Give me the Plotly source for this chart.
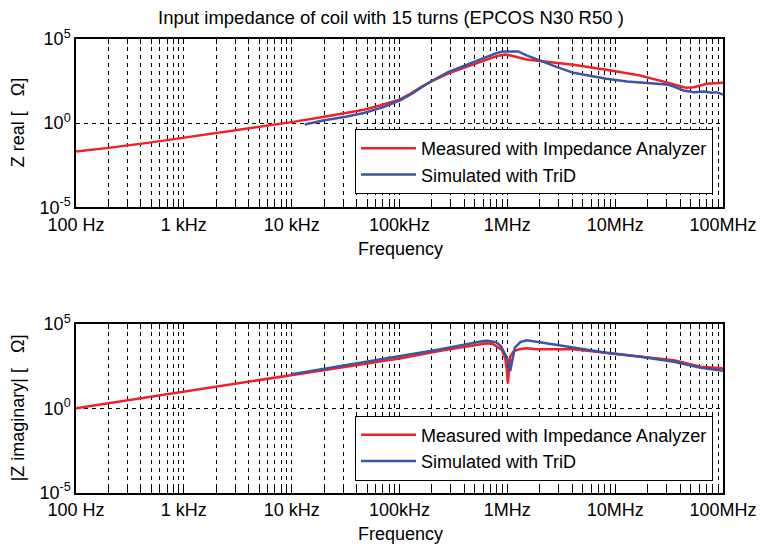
import plotly.graph_objects as go

# ---------------- data ----------------
# Top panel: real part of Z
freq_re_meas = [100, 200, 500, 1e3, 2e3, 4e3, 7.8e3, 1e4, 1.95e4, 4.68e4, 6.6e4, 1e5, 1.26e5,
                1.58e5, 2e5, 2.82e5, 4e5, 5.6e5, 7.9e5, 9.5e5, 1e6, 1.51e6, 2e6, 4.1e6, 8.3e6,
                1.7e7, 3.2e7, 4.5e7, 5.4e7, 7.1e7, 1e8]
z_re_meas = [0.021, 0.034, 0.072, 0.135, 0.25, 0.47, 0.91, 1.15, 2.3, 6.2, 11.2, 25, 56,
             141, 316, 890, 2000, 4200, 9500, 12000, 11700, 6000, 5000, 2950, 1480,
             680, 240, 126, 138, 220, 250]

freq_re_sim = [1.32e4, 1.58e4, 1.95e4, 3.16e4, 4.68e4, 7.1e4, 1e5, 1.26e5, 1.58e5, 2e5, 2.82e5,
               4e5, 5.6e5, 7.9e5, 9.1e5, 1.26e6, 1.51e6, 2e6, 2.9e6, 4.1e6, 5.9e6, 8.3e6,
               1.29e7, 1.95e7, 3.0e7, 3.5e7, 4.3e7, 5.4e7, 6.6e7, 7.9e7, 8.7e7, 1e8]
z_re_sim = [0.83, 1.12, 1.45, 2.4, 4.0, 8.9, 22, 50, 132, 330, 1070,
            2500, 5900, 14500, 18200, 18200, 10700, 5250, 2140, 980, 620, 440,
            300, 250, 200, 150, 87, 69, 76, 65, 69, 49]

# Bottom panel: |imaginary part of Z|
freq_im_meas = [100, 1e3, 1e4, 1e5, 2.4e5, 5.6e5, 6.5e5, 7.4e5, 8.9e5, 9.55e5, 9.89e5, 1.012e6,
                1.033e6, 1.062e6, 1.15e6, 1.32e6, 1.51e6, 1.86e6, 4.1e6, 8.3e6, 1.7e7, 3.5e7,
                6.2e7, 1e8]
z_im_meas = [1.0, 9.5, 90, 910, 2570, 6300, 7100, 6300, 2900, 910, 186, 30,
             295, 1150, 2500, 3300, 3630, 3160, 3160, 2000, 1260, 720,
             295, 235]

freq_im_sim = [1e4, 1e5, 2.4e5, 6.0e5, 6.5e5, 7.9e5, 8.7e5, 9.2e5, 1.0e6, 1.062e6, 1.11e6,
               1.175e6, 1.32e6, 1.51e6, 2.0e6, 4.1e6, 8.3e6, 1.7e7, 3.5e7, 6.2e7, 1e8]
z_im_sim = [107, 1260, 3160, 9800, 10000, 8300, 5000, 2500, 890, 160, 800,
            4000, 8500, 10700, 8300, 4200, 2000, 1150, 575, 257, 170]

decade_freqs = [1e2, 1e3, 1e4, 1e5, 1e6, 1e7, 1e8]
decade_labels = ["100 Hz", "1 kHz", "10 kHz", "100kHz", "1MHz", "10MHz", "100MHz"]
y_tick_vals = [1e-5, 1, 1e5]
y_tick_labels = ["10<sup>-5</sup>", "10<sup>0</sup>", "10<sup>5</sup>"]

series_names = ["Measured with Impedance Analyzer", "Simulated with TriD"]

# ---------------- styling ----------------
RED = "#ee2229"
BLUE = "#3b55a6"
FONT = "Liberation Sans, Arial, sans-serif"
FS = 18

grid_vals, grid_text = [], []
for i, d in enumerate(decade_freqs[:-1]):
    for m in range(1, 10):
        grid_vals.append(d * m)
        grid_text.append(decade_labels[i] if m == 1 else "")
grid_vals.append(decade_freqs[-1])
grid_text.append(decade_labels[-1])

W, H = 762, 545
ML, MR, MT, MB = 76, 39, 39, 52
PW, PH = W - ML - MR, H - MT - MB


def py(pix_y):
    return (H - pix_y - MB) / PH


def px(pix_x):
    return (pix_x - ML) / PW


xstyle = dict(type="log", range=[2, 8], tickmode="array", tickvals=grid_vals, ticktext=grid_text,
              showgrid=True, gridcolor="black", griddash="4px,4px", gridwidth=1,
              ticks="inside", ticklen=5, tickcolor="black", tickwidth=1,
              showline=True, linecolor="black", linewidth=1.5, mirror="ticks",
              tickfont=dict(size=FS, color="black", family=FONT), zeroline=False,
              ticklabelstandoff=0, automargin=False)
ystyle = dict(type="log", range=[-5, 5], tickmode="array", tickvals=y_tick_vals,
              ticktext=y_tick_labels, showgrid=True, gridcolor="black", griddash="4px,4px",
              gridwidth=1, ticks="", showline=True, linecolor="black", linewidth=1.5,
              mirror=True, tickfont=dict(size=FS, color="black", family=FONT), zeroline=False,
              automargin=False)

top_dom = [py(207.3), py(39)]
bot_dom = [py(492.7), py(324)]

fig = go.Figure()
fig.add_trace(go.Scatter(x=freq_re_meas, y=z_re_meas, mode="lines", name=series_names[0],
                         line=dict(color=RED, width=2.5), xaxis="x", yaxis="y", legend="legend"))
fig.add_trace(go.Scatter(x=freq_re_sim, y=z_re_sim, mode="lines", name=series_names[1],
                         line=dict(color=BLUE, width=2.5), xaxis="x", yaxis="y", legend="legend"))
fig.add_trace(go.Scatter(x=freq_im_meas, y=z_im_meas, mode="lines", name=series_names[0],
                         line=dict(color=RED, width=2.5), xaxis="x2", yaxis="y2", legend="legend2"))
fig.add_trace(go.Scatter(x=freq_im_sim, y=z_im_sim, mode="lines", name=series_names[1],
                         line=dict(color=BLUE, width=2.5), xaxis="x2", yaxis="y2", legend="legend2"))

legend_common = dict(xanchor="left", yanchor="middle", bordercolor="black", borderwidth=1,
                     bgcolor="white", font=dict(size=FS, color="black", family=FONT),
                     tracegroupgap=0, itemwidth=55)

ann_common = dict(xref="paper", yref="paper", showarrow=False, xanchor="center",
                  yanchor="middle", font=dict(size=FS, color="black", family=FONT))

fig.update_layout(
    width=W, height=H, margin=dict(l=ML, r=MR, t=MT, b=MB, autoexpand=False),
    paper_bgcolor="white", plot_bgcolor="white",
    font=dict(family=FONT, color="black", size=FS),
    xaxis=dict(**xstyle, anchor="y"),
    yaxis=dict(**ystyle, domain=top_dom, anchor="x"),
    xaxis2=dict(**xstyle, anchor="y2"),
    yaxis2=dict(**ystyle, domain=bot_dom, anchor="x2"),
    legend=dict(x=px(355), y=py(161.5), **legend_common),
    legend2=dict(x=px(355), y=py(448), **legend_common),
    annotations=[
        dict(text="Input impedance of coil with 15 turns (EPCOS N30 R50 )", x=px(390.5), y=py(18),
             **{**ann_common, "font": dict(size=18.5, color="black", family=FONT)}),
        dict(text="Frequency", x=px(400), y=py(249), **ann_common),
        dict(text="Frequency", x=px(400), y=py(534), **ann_common),
        dict(text="Z real [\u00a0\u00a0 Ω]", x=px(18), y=(top_dom[0] + top_dom[1]) / 2,
             textangle=-90, **ann_common),
        dict(text="|Z imaginary| [\u00a0\u00a0 Ω]", x=px(18), y=(bot_dom[0] + bot_dom[1]) / 2,
             textangle=-90, **ann_common),
    ],
)

fig.write_html("out.html", config={"displayModeBar": False},
               post_script="document.body.style.margin='0';")
